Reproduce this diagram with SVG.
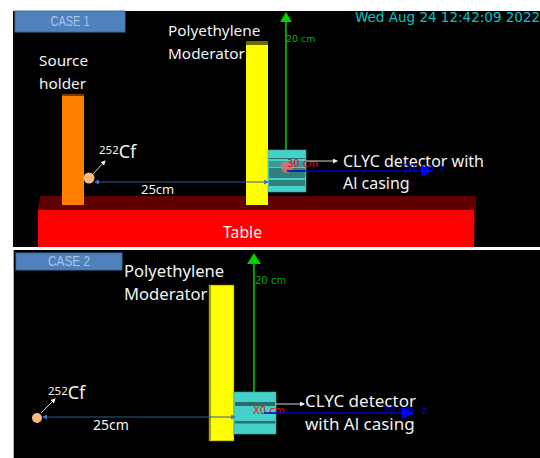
<svg xmlns="http://www.w3.org/2000/svg" width="540" height="458" viewBox="0 0 540 458">
<style>
.t{font-family:"Noto Sans","DejaVu Sans",sans-serif;fill:#f2f2f2;font-size:15.3px}
.t2{font-size:16.6px}
.c{font-size:18px}
.s{font-size:11.5px}
.case{font-family:"Liberation Sans",sans-serif;font-size:14px;fill:#a9c4e4;text-anchor:middle}
.badge{fill:#4f81bd;stroke:#3f6c9f}
.g{font-family:"DejaVu Sans",sans-serif;font-size:9.5px;fill:#00b000}
.r{font-family:"DejaVu Sans",sans-serif;font-size:10px;fill:#e01010}
.b{font-family:"DejaVu Sans",sans-serif;font-size:10px;fill:#0000c8}
.wl{stroke:#d8d8d8;stroke-width:1;fill:none}
.dim{stroke:#2f5a86;stroke-width:1;fill:none}
.green{stroke:#00d000;stroke-width:1.5;fill:none}
.blue{stroke:#0000c0;stroke-width:1.5;fill:none}
.stripe{fill:#2a6d6a}
.det{fill:#45d0c8;stroke:#38a8a2;stroke-width:.6}
</style>
<defs>
<marker id="wa" markerWidth="5" markerHeight="5" refX="4" refY="2.5" orient="auto"><path d="M0 0L5 2.5L0 5z" fill="#f0f0f0"/></marker>
<marker id="da" markerWidth="5" markerHeight="5" refX="4" refY="2.5" orient="auto-start-reverse"><path d="M0 0L5 2.5L0 5z" fill="#4472c4"/></marker>
</defs>
<rect width="540" height="458" fill="#fff"/>
<g id="panel1">
<rect x="13" y="11" width="527" height="236" fill="#000"/>
</g>
<g id="panel2">
<rect x="13" y="250" width="527" height="208" fill="#000"/>
<rect x="13" y="250" width="1" height="208" fill="#aaa"/>
</g>
<g id="table">
<path d="M40 196H476V210L474 247H38V210z" fill="#600000"/>
<rect x="38" y="210" width="436" height="37" fill="#f00"/>
<text class="t" x="223" y="238" style="font-size:15.8px">Table</text>
</g>
<g id="case1">
<rect class="badge" x="15" y="11" width="110" height="21"/>
<text class="case" x="70" y="26" textLength="39" lengthAdjust="spacingAndGlyphs">CASE 1</text>
</g>
<g id="holder">
<rect x="62" y="94" width="22" height="3" fill="#7a3a00"/>
<rect x="62" y="96" width="22" height="109" fill="#ff7f00"/>
<text class="t" x="39" y="66">Source</text>
<text class="t" x="39" y="89">holder</text>
</g>
<g id="source1">
<circle cx="89" cy="178" r="5.5" fill="#f8b880"/>
<text class="t c" x="99" y="158"><tspan class="s" dy="-4">252</tspan><tspan dy="4">Cf</tspan></text>
</g>
<g id="moderator1">
<rect x="246" y="41" width="22" height="5" fill="#6e6a00"/>
<rect x="246" y="45" width="22" height="160" fill="#ff0"/>
<text class="t" x="168" y="36">Polyethylene</text>
<text class="t" x="168" y="59">Moderator</text>
</g>
<g id="detector1">
<rect class="det" x="268" y="150" width="38" height="42"/>
<rect class="stripe" x="269" y="158" width="36" height="1"/>
<rect x="269" y="161" width="36" height="6" fill="#3a9a96"/>
<rect x="269" y="168" width="36" height="10" fill="#2f7f7c"/>
<rect x="269" y="180" width="36" height="6" fill="#2f7f7c"/>
<circle cx="287" cy="167" r="6" fill="#e07070" opacity=".8"/>
</g>
<g id="labels1">
<text class="t" x="343" y="167" style="font-size:16px">CLYC detector with</text>
<text class="t" x="343" y="189" style="font-size:16px">Al casing</text>
<text class="t" x="141" y="194" style="font-size:13px">25cm</text>
<text x="355" y="22" style="font-family:'DejaVu Sans',sans-serif;font-size:13.5px;fill:#00c8c8">Wed Aug 24 12:42:09 2022</text>
<text class="g" x="286" y="42">20 cm</text>
<text class="r" x="287" y="167">30 cm</text>
<text class="b" x="403" y="172">20 cm</text>
<text class="b" x="439" y="172">z</text>
</g>
<g id="case2">
<rect class="badge" x="16" y="253" width="106" height="17"/>
<text class="case" x="69" y="266" textLength="42" lengthAdjust="spacingAndGlyphs">CASE 2</text>
</g>
<g id="source2">
<circle cx="37" cy="418" r="5" fill="#f8b880"/>
<text class="t c" x="48" y="399"><tspan class="s" dy="-4">252</tspan><tspan dy="4">Cf</tspan></text>
</g>
<g id="moderator2">
<rect x="209" y="285" width="25" height="156" fill="#ff0" stroke="#6e6a00" stroke-width=".6"/>
<rect x="209" y="285" width="2" height="156" fill="#a8a400"/>
<text class="t t2" x="124" y="277">Polyethylene</text>
<text class="t t2" x="124" y="300">Moderator</text>
</g>
<g id="detector2">
<rect class="det" x="234" y="392" width="42" height="42"/>
<rect class="stripe" x="235" y="402" width="40" height="4"/>
<rect class="stripe" x="235" y="421" width="40" height="2.5"/>
</g>
<g id="labels2">
<text class="t" x="305" y="407" style="font-size:17px">CLYC detector</text>
<text class="t" x="305" y="430" style="font-size:17px">with Al casing</text>
<text class="t" x="93" y="430" style="font-size:14px">25cm</text>
<text class="g" x="255" y="284" style="font-size:10px">20 cm</text>
<text class="r" x="253" y="414">X0 cm</text>
<text class="b" x="383" y="414">20 cm</text>
<text class="b" x="422" y="414">z</text>
</g>
<g id="connectors">
<path class="wl" d="M93 174L105 161" marker-end="url(#wa)"/>
<path class="dim" d="M95 182H268" marker-start="url(#da)" marker-end="url(#da)"/>
<path class="green" d="M286 150V20"/>
<path d="M286 12L292 22H280z" fill="#00d000"/>
<path class="blue" d="M287 171H425"/>
<path d="M432 171L421 165V177z" fill="#0000ff"/>
<path class="wl" d="M306 161H337" marker-end="url(#wa)"/>
<path class="wl" d="M41 413L55 399" marker-end="url(#wa)"/>
<path class="dim" d="M43 417H235" marker-start="url(#da)" marker-end="url(#da)"/>
<path class="green" d="M254 392V264"/>
<path d="M254 253L261 264H247z" fill="#00d000"/>
<path class="blue" d="M264 413H405"/>
<path d="M414 413L402 407V419z" fill="#0000ff"/>
<path class="wl" d="M276 404H304" marker-end="url(#wa)"/>
</g>
</svg>
